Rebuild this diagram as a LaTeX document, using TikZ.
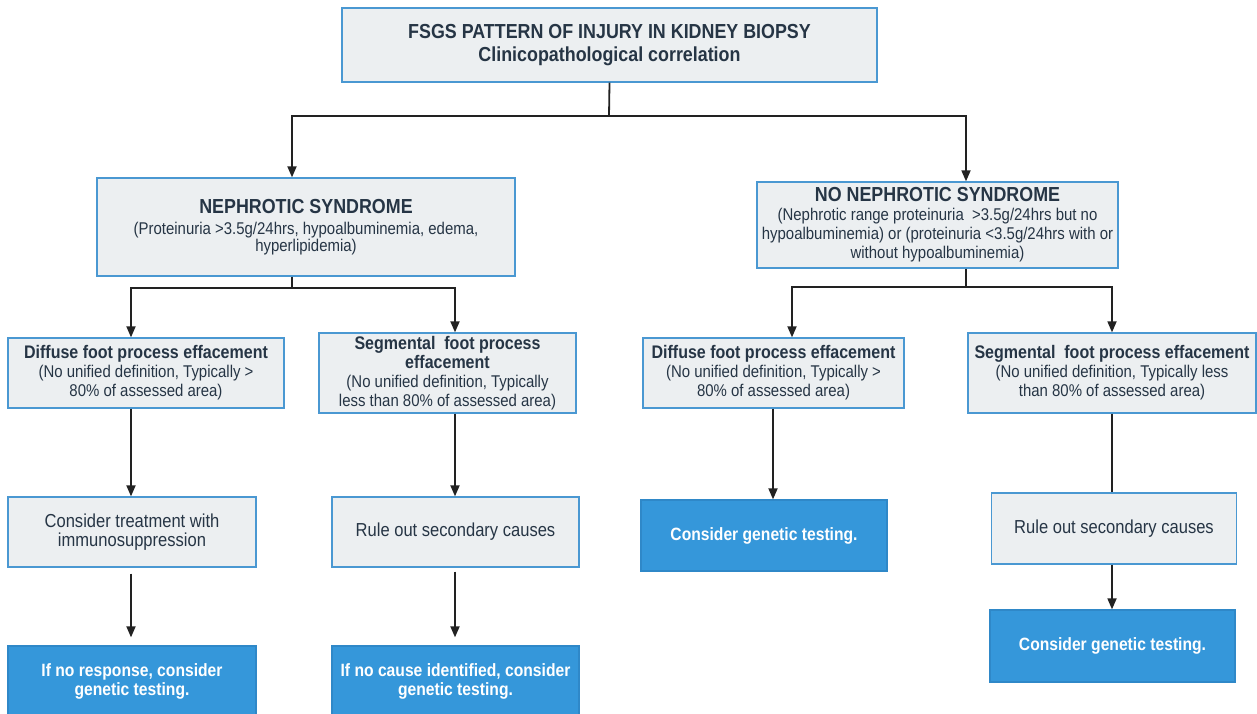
\documentclass[tikz,border=0pt]{standalone}
\usepackage{fontspec}
\setmainfont{Liberation Sans}[FakeStretch=0.88]
\usetikzlibrary{arrows.meta,calc}
\definecolor{bfill}{HTML}{ECEFF1}
\definecolor{bdraw}{HTML}{4A98D2}
\definecolor{tdark}{HTML}{263545}
\definecolor{bluefill}{HTML}{3597DA}
\definecolor{bluedraw}{HTML}{2F88C8}
\definecolor{lcol}{HTML}{222222}
\newcommand{\bigt}{\fontsize{20.3}{19}\selectfont\bfseries}
\newcommand{\subt}{\fontsize{18.2}{19}\selectfont\bfseries}
\newcommand{\bodyt}{\fontsize{17}{19}\selectfont}
\newcommand{\actt}{\fontsize{18.8}{19}\selectfont}
\tikzset{
  gbox/.style={draw=bdraw, line width=1.3pt, fill=bfill, text=tdark, align=center, inner sep=0pt, anchor=center, font=\bodyt},
  bbox/.style={draw=bluedraw, line width=1.3pt, fill=bluefill, text=white, align=center, inner sep=0pt, anchor=center, font=\fontsize{17.8}{19}\selectfont\bfseries},
  conn/.style={draw=lcol, line width=1.8pt},
  arr/.style={conn, -{Triangle[length=11pt,width=9pt]}},
}
\begin{document}
\begin{tikzpicture}[x=1pt,y=-1pt]
\useasboundingbox (0,0) rectangle (1257,714);
\fill[white] (0,0) rectangle (1257,714);

\node[gbox, minimum width=535pt, minimum height=74pt, font=\fontsize{20.3}{23}\selectfont\bfseries] (top) at (609.5,45)
  {\rule{0pt}{4pt}FSGS PATTERN OF INJURY IN KIDNEY BIOPSY\\Clinicopathological correlation};

\node[gbox, minimum width=418pt, minimum height=98pt, font=\fontsize{17}{17}\selectfont] (neph) at (306,227)
  {{\bigt NEPHROTIC SYNDROME}\\[4pt]
   (Proteinuria >3.5g/24hrs, hypoalbuminemia, edema,\\
   hyperlipidemia)};

\node[gbox, minimum width=361pt, minimum height=86pt] (noneph) at (937.5,225)
  {{\bigt NO NEPHROTIC SYNDROME}\\
   (Nephrotic range proteinuria\ \ >3.5g/24hrs but no\\
   hypoalbuminemia) or (proteinuria <3.5g/24hrs with or\\
   without hypoalbuminemia)};

\node[gbox, minimum width=276pt, minimum height=70pt] (dl) at (146,373)
  {{\subt Diffuse foot process effacement}\\
   (No unified definition, Typically >\\
   80\% of assessed area)};

\node[gbox, minimum width=257pt, minimum height=80pt] (sl) at (447.5,373)
  {{\subt Segmental\ \ foot process}\\
   {\subt effacement}\\
   (No unified definition, Typically\\
   less than 80\% of assessed area)};

\node[gbox, minimum width=261pt, minimum height=70pt] (dr) at (773.5,373)
  {{\subt Diffuse foot process effacement}\\
   (No unified definition, Typically >\\
   80\% of assessed area)};

\node[gbox, minimum width=288pt, minimum height=80pt] (sr) at (1112,373)
  {{\subt Segmental\ \ foot process effacement}\\
   (No unified definition, Typically less\\
   than 80\% of assessed area)};

\node[gbox, minimum width=248pt, minimum height=70pt, font=\actt] (ct) at (132,532)
  {Consider treatment with\\immunosuppression};
\node[gbox, minimum width=247pt, minimum height=70pt, font=\actt] (rl) at (455.5,532)
  {Rule out secondary causes};
\node[bbox, minimum width=248pt, minimum height=70pt] (bl) at (132,681)
  {If no response, consider\\genetic testing.};
\node[bbox, minimum width=247pt, minimum height=70pt] (bm) at (455.5,681)
  {If no cause identified, consider\\genetic testing.};
\node[bbox, minimum width=246pt, minimum height=71pt] (gr) at (764,535.5)
  {Consider genetic testing.};
\node[gbox, minimum width=245pt, minimum height=71pt, font=\actt] (rr) at (1114,528.5)
  {Rule out secondary causes};
\node[bbox, minimum width=245pt, minimum height=72pt] (gr2) at (1112.5,646)
  {Consider genetic testing.};

% connectors
\coordinate (j1) at (609,116);
\draw[conn] (top.south) -- (j1);
\draw[arr] (j1) -| ([xshift=-14pt]neph.north);
\draw[arr] (j1) -| ([xshift=28.5pt]noneph.north);

\coordinate (j2) at (292,288);
\draw[conn] ([xshift=-14pt]neph.south) -- (j2);
\draw[arr] (j2) -| ([xshift=-15pt]dl.north);
\draw[arr] (j2) -| ([xshift=7.5pt]sl.north);

\coordinate (j3) at (966,287);
\draw[conn] ([xshift=28.5pt]noneph.south) -- (j3);
\draw[arr] (j3) -| ([xshift=18.5pt]dr.north);
\draw[arr] (j3) -| (sr.north);

\draw[arr] ([xshift=-15pt]dl.south) -- ([xshift=-1pt]ct.north);
\draw[arr] ([xshift=7.5pt]sl.south) -- ([xshift=-0.5pt]rl.north);
\draw[arr, shorten <=6pt, shorten >=8pt] ([xshift=-1pt]ct.south) -- ([xshift=-1pt]bl.north);
\draw[arr, shorten <=4pt, shorten >=8pt] ([xshift=-0.5pt]rl.south) -- ([xshift=-0.5pt]bm.north);
\draw[arr] ([xshift=-0.5pt]dr.south) -- ([xshift=9pt]gr.north);
\draw[conn] (sr.south) -- ([xshift=-2pt]rr.north);
\draw[arr] ([xshift=-2pt]rr.south) -- ([xshift=-0.5pt]gr2.north);
\end{tikzpicture}
\end{document}
